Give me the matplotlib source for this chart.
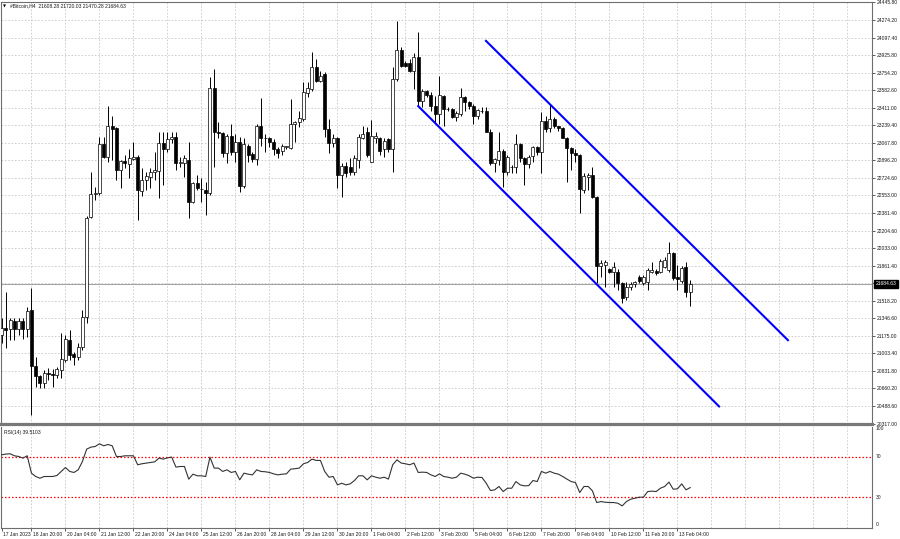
import numpy as np
import pandas as pd
import matplotlib
matplotlib.use('Agg')
import matplotlib.pyplot as plt
import matplotlib.transforms as mtransforms

# H4 bars of #Bitcoin
opens = [21182, 21251, 21241, 21319, 21241, 21319, 21241, 21428, 20877, 20779,
         20710, 20808, 20803, 20789, 20838, 20936, 21133, 20995, 20966, 21064,
         21359, 22342, 22568, 22578, 23050, 22932, 23227, 23207, 22804, 22892,
         22863, 22912, 22932, 22597, 22706, 22735, 22784, 22794, 23069, 23010,
         23099, 23128, 22873, 22873, 22902, 22489, 22676, 22617, 22607, 22578,
         23600, 23168, 23158, 22971, 23138, 22981, 23079, 22647, 23040, 22961,
         22912, 23227, 23109, 23109, 23079, 23001, 22991, 23030, 23020, 23246,
         23266, 23295, 23551, 23590, 23807, 23669, 23738, 23197, 23069, 23118,
         22755, 22843, 22833, 22784, 22902, 23118, 23168, 22883, 23118, 23118,
         23001, 23099, 23001, 23689, 23974, 23846, 23846, 23767, 23905, 23472,
         23571, 23531, 23423, 23345, 23521, 23394, 23394, 23315, 23345, 23512,
         23462, 23423, 23325, 23374, 23374, 23177, 22873, 22902, 22991, 22784,
         22833, 22833, 23050, 22922, 22863, 22942, 23030, 22981, 23276, 23207,
         23295, 23227, 23207, 23118, 23020, 22971, 22951, 22607, 22735, 22755,
         22538, 21860, 21870, 21831, 21801, 21801, 21693, 21555, 21654, 21683,
         21752, 21693, 21703, 21801, 21811, 21801, 21850, 21821, 21988, 21752,
         21713, 21850, 21608.28]
highs = [21349, 21605, 21349, 21349, 21349, 21349, 21457, 21644, 20966, 20789,
         20838, 20858, 20848, 20867, 21202, 21182, 21231, 21015, 21103, 21428,
         22352, 22784, 22637, 23128, 23128, 23423, 23325, 23217, 22902, 22951,
         23001, 23079, 22951, 22824, 22784, 22824, 22981, 23168, 23168, 23168,
         23168, 23168, 22932, 22951, 23079, 22686, 22755, 22725, 22686, 23708,
         23787, 23266, 23168, 23148, 23246, 23148, 23128, 23109, 23059, 22981,
         23246, 23502, 23148, 23128, 23099, 23030, 23059, 23040, 23492, 23276,
         23374, 23659, 23659, 23954, 23885, 23767, 23757, 23295, 23148, 23128,
         22873, 22883, 22922, 22951, 23148, 23227, 23217, 23286, 23177, 23128,
         23118, 23118, 23807, 24259, 24003, 23866, 23885, 23944, 24151, 23590,
         23580, 23561, 23521, 23718, 23531, 23413, 23404, 23374, 23600, 23521,
         23472, 23443, 23394, 23413, 23413, 23197, 22922, 23168, 23001, 22951,
         22853, 23148, 23069, 22932, 22951, 23040, 23040, 23364, 23325, 23443,
         23315, 23236, 23217, 23128, 23030, 23001, 22961, 22774, 22774, 22833,
         22548, 21919, 21919, 21840, 21899, 21831, 21703, 21703, 21703, 21713,
         21772, 21772, 21840, 21899, 21831, 21929, 21949, 22096, 21998, 21870,
         21860, 21899, 21720.03]
lows = [21103, 21054, 21133, 21133, 21182, 21143, 21162, 20396, 20671, 20661,
        20661, 20740, 20671, 20759, 20759, 20916, 20936, 20887, 20936, 21035,
        21300, 22332, 22509, 22558, 22922, 22883, 22902, 22706, 22627, 22824,
        22725, 22902, 22312, 22548, 22607, 22627, 22706, 22529, 22656, 22981,
        23069, 22804, 22833, 22735, 22332, 22479, 22607, 22489, 22361, 22558,
        22833, 23118, 22932, 22873, 22951, 22883, 22588, 22627, 22883, 22883,
        22853, 23040, 22981, 23030, 22951, 22922, 22951, 23001, 23001, 23079,
        23217, 23276, 23512, 23571, 23659, 23659, 23128, 22971, 23030, 22627,
        22538, 22735, 22755, 22755, 22824, 23099, 22932, 22883, 23069, 22951,
        22932, 22981, 22784, 23669, 23807, 23807, 23757, 23590, 23423, 23413,
        23512, 23374, 23266, 23246, 23227, 23374, 23305, 23276, 23325, 23374,
        23394, 23246, 23295, 23354, 23168, 22853, 22784, 22853, 22637, 22755,
        22774, 22774, 22883, 22656, 22824, 22883, 22951, 22774, 23177, 23168,
        23207, 23187, 23109, 22686, 22804, 22883, 22381, 22578, 22607, 22529,
        21693, 21752, 21654, 21791, 21654, 21624, 21496, 21526, 21624, 21654,
        21693, 21673, 21624, 21791, 21772, 21791, 21840, 21801, 21723, 21624,
        21693, 21555, 21470.28]
closes = [21251, 21231, 21329, 21241, 21319, 21241, 21418, 20877, 20779, 20710,
          20808, 20803, 20789, 20848, 20946, 21143, 20985, 20966, 21064, 21359,
          22332, 22568, 22578, 23050, 22932, 23236, 23197, 22804, 22892, 22873,
          22922, 22932, 22607, 22706, 22745, 22784, 22804, 23069, 23010, 23099,
          23128, 22873, 22873, 22922, 22489, 22676, 22627, 22617, 22578, 23600,
          23168, 23158, 22971, 23138, 22981, 23079, 22647, 23050, 22951, 22912,
          23227, 23109, 23109, 23079, 23001, 22971, 23040, 23030, 23246, 23266,
          23305, 23561, 23600, 23807, 23669, 23718, 23197, 23069, 23118, 22755,
          22843, 22774, 22784, 22922, 23128, 23148, 22951, 23138, 23138, 22991,
          23089, 23001, 23689, 23974, 23816, 23816, 23767, 23905, 23472, 23571,
          23531, 23423, 23345, 23531, 23394, 23394, 23315, 23354, 23512, 23462,
          23423, 23325, 23384, 23374, 23177, 22873, 22912, 22991, 22784, 22932,
          22833, 23050, 22922, 22863, 22932, 23030, 22981, 23276, 23197, 23295,
          23227, 23207, 23118, 23020, 22971, 22951, 22617, 22745, 22755, 22538,
          21860, 21890, 21899, 21801, 21850, 21693, 21546, 21654, 21683, 21703,
          21713, 21752, 21821, 21821, 21791, 21909, 21919, 21988, 21742, 21732,
          21840, 21605, 21684.63]

# RSI(14) line
rsi = [72.0, 72.7, 73.0, 71.0, 70.3, 68.7, 71.0, 53.8, 50.5, 48.8,
       50.5, 50.5, 50.5, 51.5, 55.5, 59.4, 55.5, 54.5, 57.1, 65.4,
       77.6, 79.6, 80.2, 82.9, 80.9, 82.2, 80.9, 70.3, 70.3, 71.0,
       71.0, 71.0, 62.1, 63.1, 63.8, 64.4, 65.0, 68.7, 67.7, 69.0,
       69.7, 59.8, 60.4, 60.4, 47.9, 52.8, 51.2, 51.2, 50.5, 69.7,
       58.8, 58.8, 55.5, 57.1, 54.5, 55.5, 47.2, 53.8, 52.8, 52.1,
       57.1, 55.5, 55.2, 54.5, 53.1, 52.1, 52.8, 53.1, 57.8, 58.2,
       58.8, 63.1, 64.4, 67.7, 66.4, 66.4, 55.5, 49.8, 50.5, 42.2,
       43.8, 42.2, 43.2, 46.5, 51.2, 51.2, 47.2, 51.2, 49.8, 48.8,
       49.8, 47.9, 62.1, 67.0, 63.8, 63.1, 62.1, 63.8, 54.5, 54.8,
       54.5, 52.1, 50.5, 53.1, 50.5, 49.8, 48.8, 49.8, 53.8, 52.8,
       51.2, 48.8, 49.8, 49.5, 43.9, 36.6, 37.3, 40.6, 35.6, 38.9,
       38.9, 45.5, 42.2, 41.2, 41.5, 46.5, 45.5, 55.5, 53.8, 55.5,
       53.8, 52.8, 50.5, 47.9, 45.5, 44.5, 34.6, 40.6, 40.6, 36.3,
       24.7, 25.7, 25.0, 24.7, 24.7, 24.0, 21.4, 25.7, 28.0, 29.0,
       30.0, 30.0, 35.6, 36.0, 35.6, 38.9, 40.6, 44.9, 37.9, 38.3,
       43.2, 37.3, 39.5103]

first_bar = '2023-01-17 16:00'
time_labels = ['17 Jan 2023', '18 Jan 20:00', '20 Jan 04:00', '21 Jan 12:00',
               '22 Jan 20:00', '24 Jan 04:00', '25 Jan 12:00', '26 Jan 20:00',
               '28 Jan 04:00', '29 Jan 12:00', '30 Jan 20:00', '1 Feb 04:00',
               '2 Feb 12:00', '3 Feb 20:00', '5 Feb 04:00', '6 Feb 12:00',
               '7 Feb 20:00', '9 Feb 04:00', '10 Feb 12:00', '11 Feb 20:00',
               '13 Feb 04:00']
price_labels = ['24445.80', '24274.20', '24097.40', '23925.80', '23754.20',
                '23582.60', '23411.00', '23239.40', '23067.80', '22896.20',
                '22724.60', '22553.00', '22381.40', '22204.60', '22033.00',
                '21861.40', '21689.80', '21518.20', '21346.60', '21175.00',
                '21003.40', '20831.80', '20660.20', '20488.60', '20317.00']
rsi_levels = [70, 30]

# hand-drawn channel (bar number, price)
upper_bars = [113.95, 185.0]
upper_prices = [24065, 21133]
lower_bars = [98.0, 168.8]
lower_prices = [23426, 20484]

n_bars = len(closes)
bar_times = pd.date_range(first_bar, periods=n_bars, freq='4h')
idx = np.arange(n_bars)
label_pos = [0] + list(bar_times.get_indexer(
    pd.to_datetime([t + ' 2023' for t in time_labels[1:]], format='%d %b %H:%M %Y')))
price_vals = [float(p) for p in price_labels]

W, H = 900, 539
plt.rcParams['font.family'] = ['Liberation Sans', 'DejaVu Sans']
fs = 3.65
txt_col = '#1a1a1a'
grid_kw = dict(color='#c8c8c8', lw=0.6, ls=(0, (2, 2)), zorder=0)

fig = plt.figure(figsize=(W / 100, H / 100), dpi=100)
ax = fig.add_axes([0.5 / W, 1 - 423.5 / H, 871.5 / W, 421.5 / H])
axr = fig.add_axes([0.5 / W, 1 - 527.5 / H, 871.5 / W, 101 / H], sharex=ax)

ax.set_xlim((0.5 - 1.7) / 4.25, (872 - 1.7) / 4.25)
ax.set_ylim(price_vals[-1], price_vals[0])
axr.set_ylim(0, 100)

# grid
grid_x = np.arange(label_pos[1], ax.get_xlim()[1], 8)
for gx in grid_x:
    ax.axvline(gx, **grid_kw)
    axr.axvline(gx, **grid_kw)
for v in price_vals[1:-1]:
    ax.axhline(v, **grid_kw)

# candles
o = np.array(opens)
c = np.array(closes)
bull = c >= o
ax.vlines(idx, lows, highs, color='black', lw=0.7, zorder=2)
ax.bar(idx, np.maximum(np.abs(c - o), 1), bottom=np.minimum(o, c), width=0.7,
       color=np.where(bull, 'white', 'black'), edgecolor='black', linewidth=0.5, zorder=3)

# channel
ax.plot(upper_bars, upper_prices, color='#0000ff', lw=1.5, zorder=4)
ax.plot(lower_bars, lower_prices, color='#0000ff', lw=1.5, zorder=4)

# current price line + tag
ax.axhline(closes[-1], color='#a0a0a0', lw=0.7, zorder=1)
blend = mtransforms.blended_transform_factory(ax.transAxes, ax.transData)
ax.text(1.004, closes[-1], f'{closes[-1]:.2f}', transform=blend, ha='left', va='center',
        fontsize=fs, color='white', zorder=10, clip_on=False,
        bbox=dict(facecolor='black', edgecolor='black', pad=0.9))

# price axis
ax.yaxis.tick_right()
ax.set_yticks(price_vals)
ax.set_yticklabels(price_labels)
ax.tick_params(axis='y', length=2, width=0.5, pad=1.5, labelsize=fs, colors=txt_col)
ax.tick_params(axis='x', bottom=False, labelbottom=False)
for s in ax.spines.values():
    s.set_color('#6e6e6e')
    s.set_linewidth(0.8)
ax.spines['bottom'].set_linewidth(2.3)
ax.spines['bottom'].set_color('#787878')

fig.text(3 / W, 1 - 6 / H, '\u25bc', fontsize=2.8, ha='left', va='center', family='DejaVu Sans')
fig.text(10 / W, 1 - 6 / H,
         f'#Bitcoin,H4  {opens[-1]:.2f} {highs[-1]:.2f} {lows[-1]:.2f} {closes[-1]:.2f}',
         fontsize=fs, ha='left', va='center', color=txt_col)

# RSI window
axr.plot(idx, rsi, color='#333333', lw=0.8, zorder=3)
for lv in rsi_levels:
    axr.axhline(lv, color='#ff0000', lw=0.9, ls=(0, (1.2, 1.6)), zorder=2)
axr.set_yticks([])
blend_r = mtransforms.blended_transform_factory(axr.transAxes, axr.transData)
for val, va in [(100, 'top'), (70, 'center'), (30, 'center'), (0, 'bottom')]:
    axr.text(1.004, val, str(val), transform=blend_r, ha='left', va=va,
             fontsize=fs, color=txt_col, clip_on=False)
axr.text(4 / 871.5, 0.97, f'RSI(14) {rsi[-1]:.4f}', transform=axr.transAxes,
         fontsize=fs, ha='left', va='top', color=txt_col)
for s in axr.spines.values():
    s.set_color('#6e6e6e')
    s.set_linewidth(0.8)
axr.spines['top'].set_visible(False)

axr.set_xticks(label_pos)
axr.set_xticklabels(time_labels, ha='left')
axr.tick_params(axis='x', length=2, width=0.5, pad=1.2, labelsize=fs, colors=txt_col)
shift = mtransforms.ScaledTranslation(1.5 / 100, 0, fig.dpi_scale_trans)
for lbl in axr.get_xticklabels():
    lbl.set_transform(lbl.get_transform() + shift)

fig.savefig('out.png', dpi=100, facecolor='white')
